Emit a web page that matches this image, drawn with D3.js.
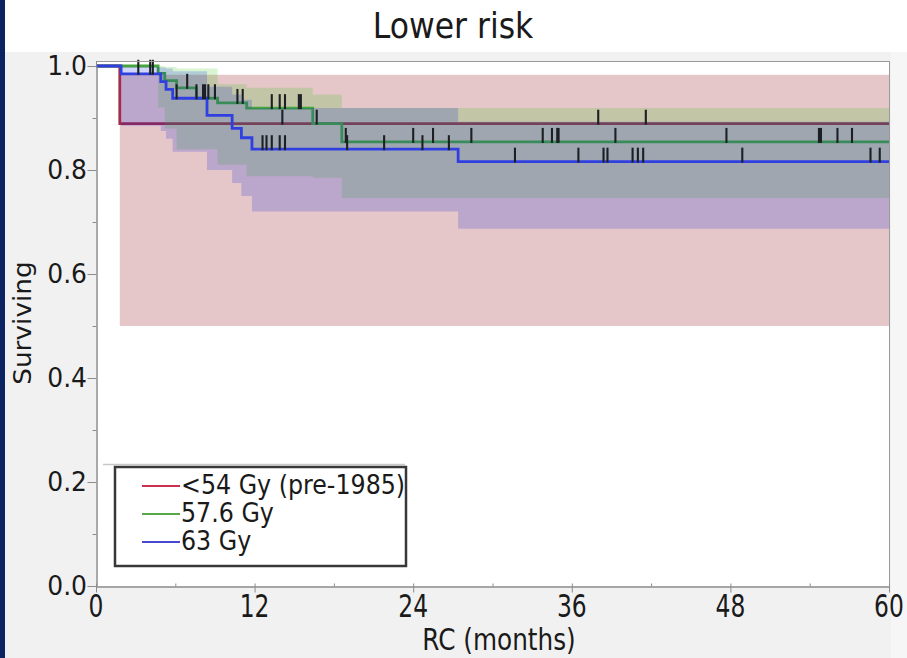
<!DOCTYPE html>
<html>
<head>
<meta charset="utf-8">
<script src="https://cdn.jsdelivr.net/npm/d3@7"></script>
<style>
  html, body { margin: 0; padding: 0; background: #ffffff; }
  svg { display: block; }
</style>
</head>
<body>
<svg id="chart" width="907" height="658"></svg>
<script>
// ---- Kaplan–Meier estimates (time in months, proportion surviving) ----
// <54 Gy (pre-1985)
const redTimes = [0, 1.8];
const redSurv = [1, 0.889];
const redBandTimes = [1.8];
const redLower = [0.50];
const redUpper = [0.983];
const redCensor = [14.1, 38.0, 41.6];

// 57.6 Gy
const greenTimes = [0, 4.7, 5.2, 6.1, 7.6, 9.2, 11.4, 16.4, 18.6];
const greenSurv = [1, 0.986, 0.972, 0.958, 0.938, 0.929, 0.919, 0.889, 0.854];
const greenBandTimes = [4.7, 5.2, 6.1, 9.2, 11.4, 16.4, 18.6];
const greenLower = [0.92, 0.88, 0.84, 0.81, 0.788, 0.785, 0.746];
const greenUpper = [1.0, 0.998, 0.995, 0.965, 0.958, 0.945, 0.919];
const greenCensor = [6.9, 8.1, 8.25, 8.5, 9.0, 10.7, 11.1, 13.3, 13.9, 14.3, 15.35, 15.5,
  16.7, 18.9, 24.0, 25.5, 28.4, 33.8, 34.5, 34.9, 35.0, 39.3, 47.7, 54.7, 54.85, 56.1, 57.2];

// 63 Gy
const blueTimes = [0, 1.9, 4.9, 5.3, 5.8, 8.4, 10.3, 11.0, 11.8, 27.4];
const blueSurv = [1, 0.985, 0.97, 0.955, 0.938, 0.905, 0.88, 0.862, 0.84, 0.816];
const blueBandTimes = [1.9, 4.9, 5.3, 5.8, 8.4, 10.3, 11.0, 11.8, 27.4];
const blueLower = [0.885, 0.875, 0.86, 0.835, 0.80, 0.775, 0.75, 0.72, 0.687];
const blueUpper = [0.998, 0.997, 0.995, 0.99, 0.96, 0.945, 0.935, 0.919, 0.893];
const blueCensor = [3.2, 4.1, 4.3, 6.1, 7.6, 12.6, 12.9, 13.3, 13.9, 14.3, 19.0, 21.8, 24.7, 26.7,
  31.7, 36.5, 38.4, 38.7, 40.6, 41.0, 41.4, 48.9, 58.6, 59.3];

// ---- Axis ticks and legend ----
const xTicks = [0, 12, 24, 36, 48, 60];
const xMinor = [6, 18, 30, 42, 54];
const yTicks = [0, 0.2, 0.4, 0.6, 0.8, 1.0];
const yTickLabels = ["0.0", "0.2", "0.4", "0.6", "0.8", "1.0"];
const yMinor = [0.1, 0.3, 0.5, 0.7, 0.9];
const legendLabels = ["<54 Gy (pre-1985)", "57.6 Gy", "63 Gy"];
const legendColors = ["#cc3050", "#58a848", "#4848d0"];

const T_END = 60;
const FONT = "'DejaVu Sans', 'Noto Sans', sans-serif";

const svg = d3.select("#chart");
const W = 907, H = 658;

// page background
svg.append("rect").attr("x", 0).attr("y", 0).attr("width", W).attr("height", H).attr("fill", "#f1f1f1");
svg.append("rect").attr("x", 0).attr("y", 0).attr("width", W).attr("height", 52).attr("fill", "#ffffff");
svg.append("rect").attr("x", 891).attr("y", 52).attr("width", 16).attr("height", H - 52).attr("fill", "#f6f6f6");
svg.append("rect").attr("x", 0).attr("y", 0).attr("width", 5).attr("height", H).attr("fill", "#0b2263");

const x = d3.scaleLinear().domain([0, 60]).range([96, 889]);
const y = d3.scaleLinear().domain([0, 1]).range([586, 66]);
const yTop = 61;

// plot area
svg.append("rect").attr("x", x(0)).attr("y", yTop).attr("width", x(60) - x(0)).attr("height", y(0) - yTop)
  .attr("fill", "#ffffff");

function text(g, px, py, s, o) {
  return g.append("text")
    .attr("transform", `translate(${px},${py})${o.rotate ? ` rotate(${o.rotate})` : ""} scale(${o.sx || 1},${o.sy || 1})`)
    .attr("x", 0).attr("y", 0)
    .attr("font-family", FONT)
    .attr("font-size", o.size)
    .attr("text-anchor", o.anchor || "start")
    .attr("fill", o.fill || "#1a1a1a")
    .text(s);
}

function stepValue(times, vals, t) {
  let v = vals[0];
  for (let i = 0; i < times.length; i++) if (times[i] <= t) v = vals[i];
  return v;
}

const plot = svg.append("g");

const band = d3.area().curve(d3.curveStepAfter)
  .x(d => x(d.t)).y0(d => y(d.lo)).y1(d => y(d.hi));
const step = d3.line().curve(d3.curveStepAfter)
  .x(d => x(d.t)).y(d => y(d.s));

function bandData(times, lo, hi) {
  const d = times.map((t, i) => ({ t, lo: lo[i], hi: hi[i] }));
  d.push({ t: T_END, lo: lo[lo.length - 1], hi: hi[hi.length - 1] });
  return d;
}
function lineData(times, s) {
  const d = times.map((t, i) => ({ t, s: s[i] }));
  d.push({ t: T_END, s: s[s.length - 1] });
  return d;
}

// confidence bands and survival curves, layered as translucent fills
plot.append("path").attr("d", band(bandData(redBandTimes, redLower, redUpper)))
  .attr("fill", "#e5c6c9");
plot.append("path").attr("d", step(lineData(redTimes, redSurv)))
  .attr("fill", "none").attr("stroke", "#a32c48").attr("stroke-width", 2.8);

plot.append("path").attr("d", band(bandData(greenBandTimes, greenLower, greenUpper)))
  .attr("fill", "rgb(60,200,30)").attr("fill-opacity", 0.2);
plot.append("path").attr("d", step(lineData(greenTimes, greenSurv)))
  .attr("fill", "none").attr("stroke", "#46a63c").attr("stroke-width", 2.8);

plot.append("path").attr("d", band(bandData(blueBandTimes, blueLower, blueUpper)))
  .attr("fill", "rgb(0,22,219)").attr("fill-opacity", 0.18);
plot.append("path").attr("d", step(lineData(blueTimes, blueSurv)))
  .attr("fill", "none").attr("stroke", "#3040e0").attr("stroke-width", 2.8);

// censoring marks
function censorMarks(times, surv, cens) {
  plot.append("g").selectAll("line").data(cens).join("line")
    .attr("x1", d => x(d)).attr("x2", d => x(d))
    .attr("y1", d => y(stepValue(times, surv, d)) + 1)
    .attr("y2", d => y(stepValue(times, surv, d)) - 14)
    .attr("stroke", "#1c2024").attr("stroke-width", 2.1);
}
censorMarks(redTimes, redSurv, redCensor);
censorMarks(greenTimes, greenSurv, greenCensor);
censorMarks(blueTimes, blueSurv, blueCensor);

// frame
svg.append("line").attr("x1", x(0)).attr("x2", x(60)).attr("y1", yTop + 0.5).attr("y2", yTop + 0.5)
  .attr("stroke", "#9a9a9a");
svg.append("line").attr("x1", x(60) + 0.5).attr("x2", x(60) + 0.5).attr("y1", yTop).attr("y2", y(0))
  .attr("stroke", "#9a9a9a");

// axes
const axisColor = "#8c8c8c";
function styleAxis(g) {
  g.select(".domain").attr("stroke", axisColor);
  g.selectAll(".tick line").attr("stroke", axisColor);
  g.selectAll(".tick text").remove();
}
svg.append("g").attr("transform", `translate(0,${y(0) + 0.5})`)
  .call(d3.axisBottom(x).tickValues(xTicks).tickSize(6).tickSizeOuter(0)).call(styleAxis);
svg.append("g").attr("transform", `translate(0,${y(0) + 0.5})`)
  .call(d3.axisBottom(x).tickValues(xTicks.concat(xMinor)).tickSize(-3).tickSizeOuter(0)).call(styleAxis);
svg.append("g").attr("transform", `translate(${x(0) + 0.5},0)`)
  .call(d3.axisLeft(y).tickValues(yTicks).tickSize(9).tickSizeOuter(0)).call(styleAxis);
svg.append("g").attr("transform", `translate(${x(0) + 0.5},0)`)
  .call(d3.axisLeft(y).tickValues(yMinor).tickSize(4).tickSizeOuter(0)).call(styleAxis);
// extend left axis line to frame top
svg.append("line").attr("x1", x(0) + 0.5).attr("x2", x(0) + 0.5).attr("y1", yTop).attr("y2", y(1))
  .attr("stroke", axisColor);

// tick labels
xTicks.forEach(v => text(svg, x(v), 617, String(v), { size: 26, sx: 0.9, sy: 1.2, anchor: "middle" }));
yTicks.forEach((v, i) => text(svg, 87, y(v) + 9, yTickLabels[i], { size: 25, sx: 1, sy: 1.05, anchor: "end" }));

// titles
text(svg, 453, 38, "Lower risk", { size: 35, sx: 0.9, anchor: "middle" });
text(svg, 499, 650, "RC (months)", { size: 27.5, sx: 0.9, sy: 1.12, anchor: "middle" });
text(svg, 31, 323, "Surviving", { size: 24, rotate: -90, sx: 1.1, sy: 1, anchor: "middle" });

// legend
const lg = svg.append("g");
lg.append("line").attr("x1", 103).attr("x2", 405).attr("y1", 464.5).attr("y2", 464.5)
  .attr("stroke", "#c8c8c8").attr("stroke-width", 1.5);
lg.append("rect").attr("x", 115).attr("y", 467).attr("width", 291).attr("height", 99)
  .attr("fill", "#ffffff").attr("stroke", "#383838").attr("stroke-width", 2.5);
legendLabels.forEach((lab, i) => {
  const ly = 486 + i * 28;
  lg.append("line").attr("x1", 142).attr("x2", 180).attr("y1", ly).attr("y2", ly)
    .attr("stroke", legendColors[i]).attr("stroke-width", 2.2);
  text(lg, 181, ly + 8, lab, { size: 25, sx: 0.95, sy: 1.03 });
});
</script>
</body>
</html>
